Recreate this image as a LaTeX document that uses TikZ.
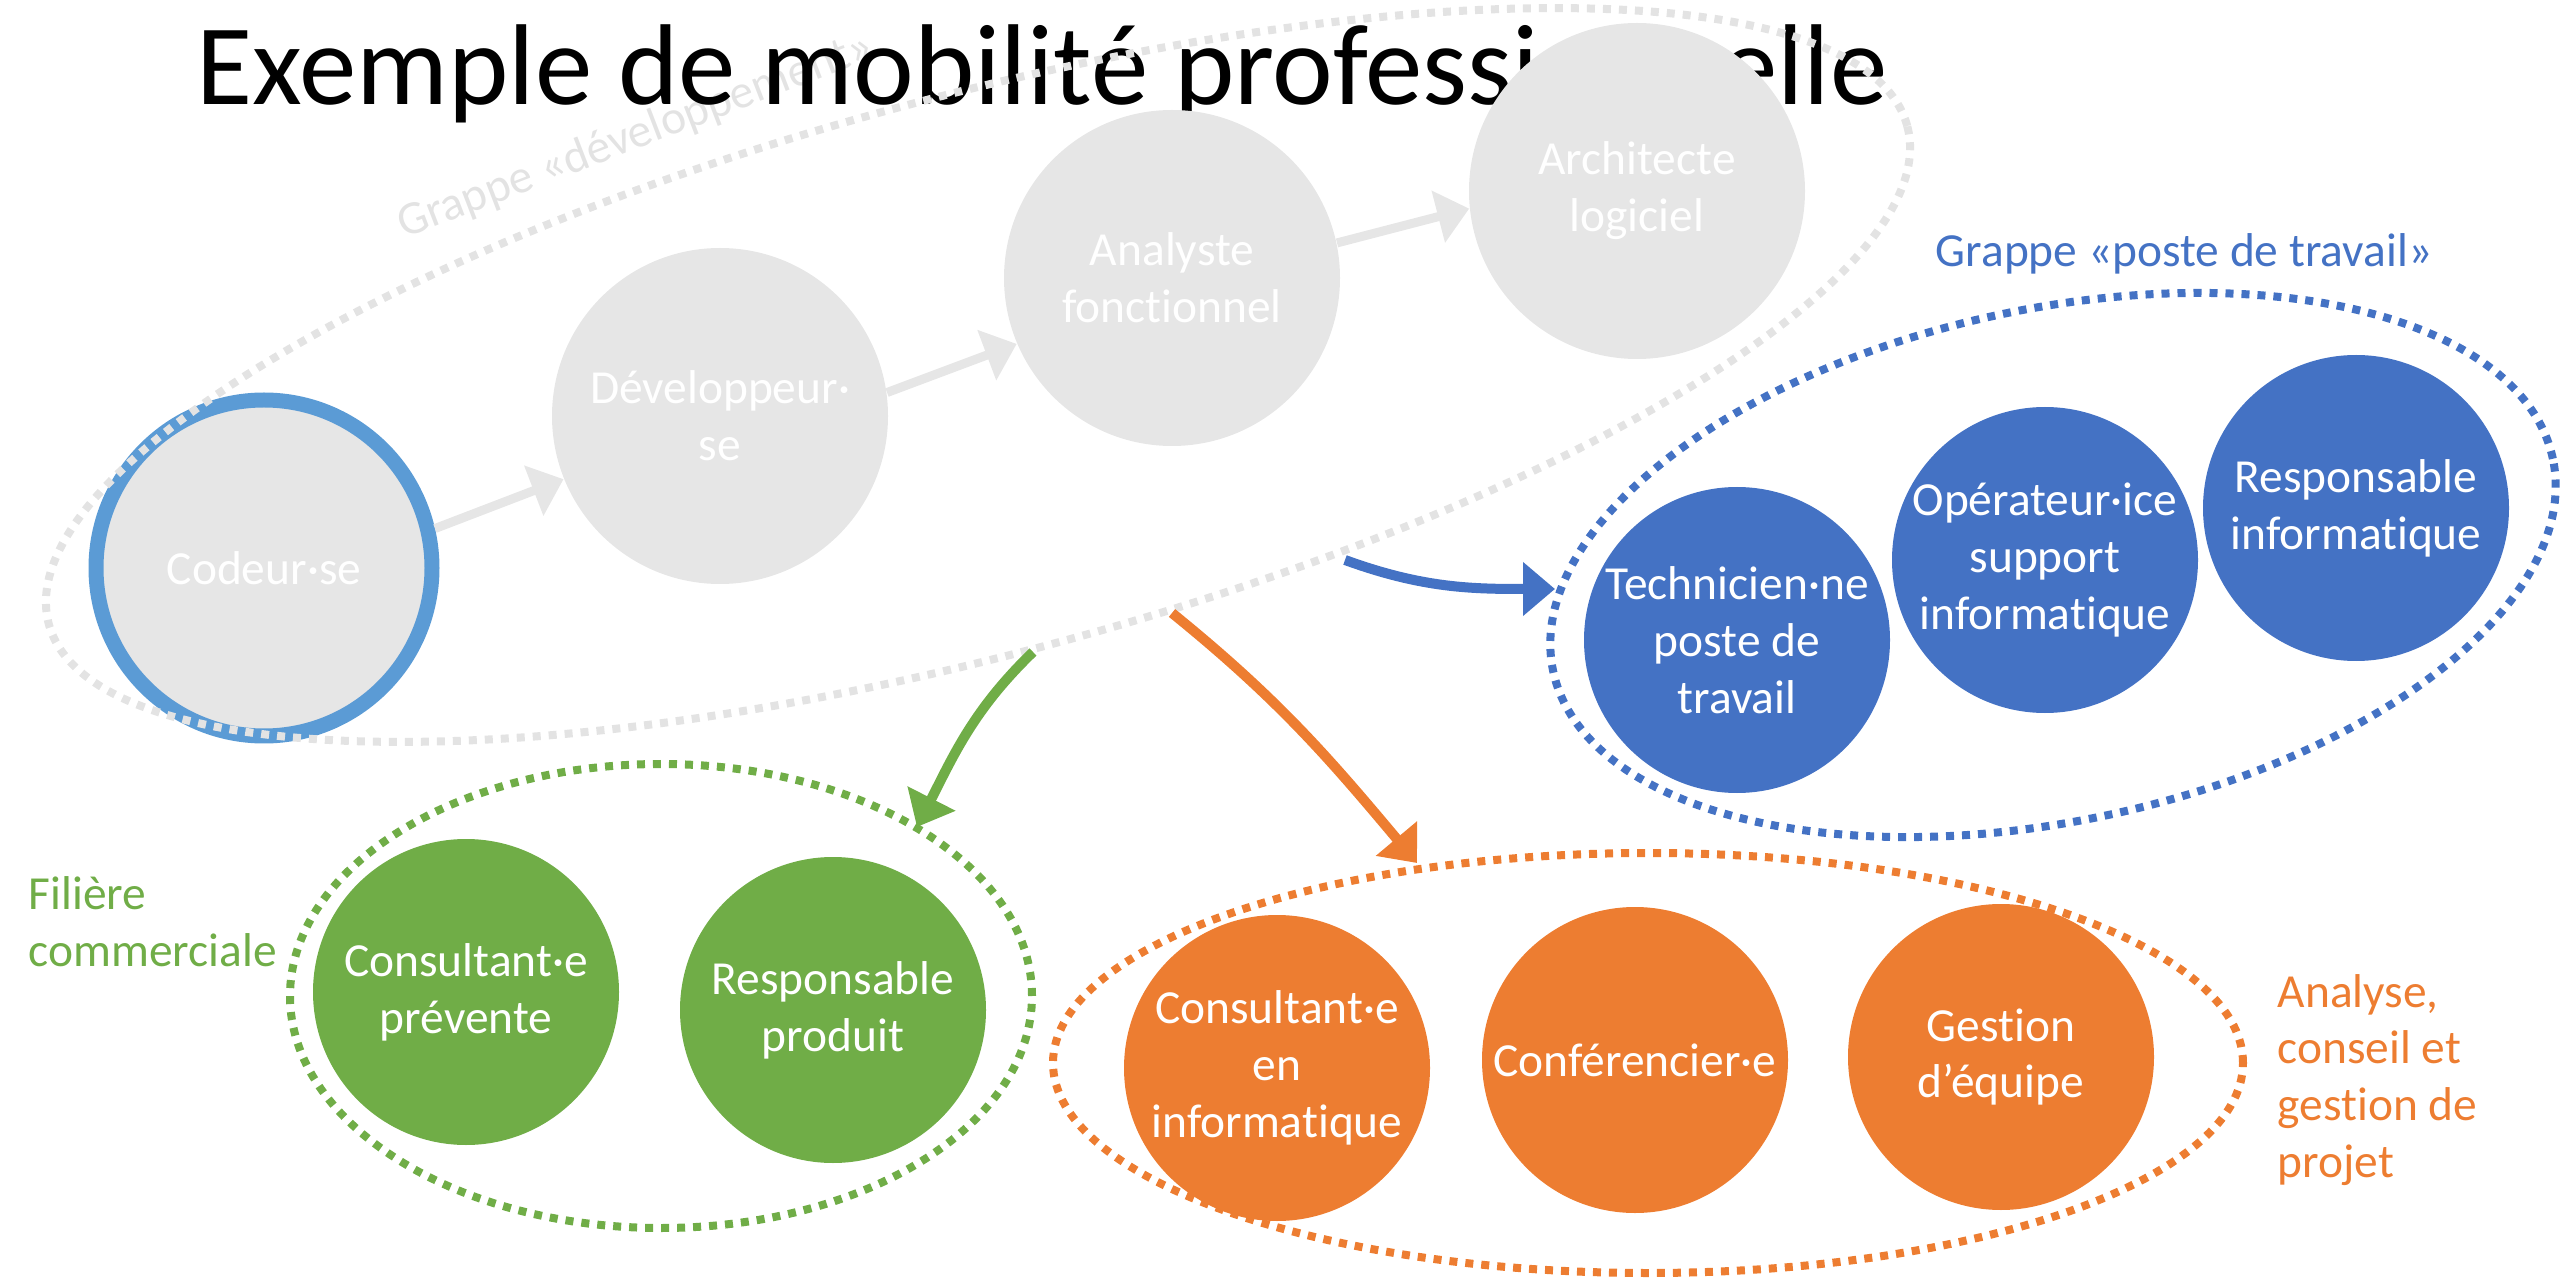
\documentclass[tikz,border=0pt]{standalone}
\usepackage{fontspec}
\setmainfont{Carlito}[Ligatures=NoCommon]
\usetikzlibrary{arrows.meta}
\definecolor{jobgray}{HTML}{E6E6E6}
\definecolor{dotgray}{HTML}{E3E3E3}
\definecolor{ringblue}{HTML}{5B9BD5}
\definecolor{wsblue}{HTML}{4472C4}
\definecolor{salesgreen}{HTML}{70AD47}
\definecolor{pmorange}{HTML}{ED7D31}
\begin{document}
\begin{tikzpicture}[>={Triangle[length=0.32cm,width=0.52cm]},line join=round,
		job/.style={circle,inner sep=0pt,minimum size=3.06cm,text=white,align=center,font=\fontsize{13.5}{16.2}\selectfont},
		oldjob/.style={job,fill=jobgray,minimum size=3.36cm},
		cluster/.style={line width=0.08cm,dash pattern=on 0.08cm off 0.08cm},
		move/.style={->,line width=0.1cm},
		lbl/.style={inner sep=0pt,align=left,font=\fontsize{13.5}{16.2}\selectfont}]
		\useasboundingbox (0,0) rectangle (25.6,12.78);
		\node[lbl,text=dotgray,rotate=21,anchor=base] (devlabel) at (6.40,11.30) {Grappe «développement»};
		\node[inner sep=0pt,anchor=base west,font=\fontsize{32.7}{39}\selectfont] (title) at (1.96,11.73) {Exemple de mobilité professionnelle};
		\node[oldjob,draw=ringblue,line width=0.15cm] (codeur) at (2.64,7.10) {Codeur·se};
		\node[oldjob] (dev) at (7.20,8.62) {Développeur·\\se};
		\node[oldjob] (analyste) at (11.72,10.00) {Analyste\\fonctionnel};
		\node[oldjob] (archi) at (16.37,10.87) {Architecte\\logiciel};
		\draw[cluster,dotgray,shift={(9.78,9.03)},rotate=15] (0,0) ellipse (9.62 and 2.79);
		\draw[move,jobgray,line width=0.09cm] (codeur.13)--(dev.202);
		\draw[move,jobgray,line width=0.09cm] (dev.8)--(analyste.203);
		\draw[move,jobgray,line width=0.09cm] (analyste.12)--(archi.186);
		\node[job,fill=wsblue] (tech) at (17.37,6.38) {Technicien·ne\\poste de\\travail};
		\node[job,fill=wsblue] (oper) at (20.45,7.18) {Opérateur·ice\\support\\informatique};
		\node[job,fill=wsblue] (respinfo) at (23.56,7.70) {Responsable\\informatique};
		\draw[cluster,wsblue,shift={(20.53,7.13)},rotate=12] (0,0) ellipse (5.11 and 2.56);
		\node[lbl,text=wsblue,anchor=base west] (wslabel) at (19.35,10.11) {Grappe «poste de travail»};
		\node[job,fill=salesgreen] (prevente) at (4.66,2.86) {Consultant·e\\prévente};
		\node[job,fill=salesgreen] (produit) at (8.33,2.68) {Responsable\\produit};
		\draw[cluster,salesgreen] (6.61,2.82) ellipse (3.71 and 2.32);
		\node[lbl,text=salesgreen,anchor=west] (saleslabel) at (0.28,3.56) {Filière\\commerciale};
		\node[job,fill=pmorange] (consinfo) at (12.77,2.10) {Consultant·e\\en\\informatique};
		\node[job,fill=pmorange] (conf) at (16.35,2.18) {Conférencier·e};
		\node[job,fill=pmorange] (gestion) at (20.01,2.21) {Gestion\\d’équipe};
		\draw[cluster,pmorange] (16.48,2.15) ellipse (5.95 and 2.10);
		\node[lbl,text=pmorange,anchor=west] (pmlabel) at (22.77,1.98) {Analyse,\\conseil et\\gestion de\\projet};
		\coordinate (wsfrom) at (13.45,7.18);
		\coordinate (wsto) at (15.55,6.89);
		\coordinate (salesfrom) at (10.33,6.26);
		\coordinate (salesto) at (9.17,4.51);
		\coordinate (pmfrom) at (11.72,6.65);
		\coordinate (pmto) at (14.17,4.15);
		\draw[move,wsblue] (wsfrom) to[out=-20,in=180] (wsto);
		\draw[move,salesgreen] (salesfrom) to[out=224,in=63] (salesto);
		\draw[move,pmorange] (pmfrom) to[out=-39,in=130] (pmto);
\end{tikzpicture}
\end{document}
